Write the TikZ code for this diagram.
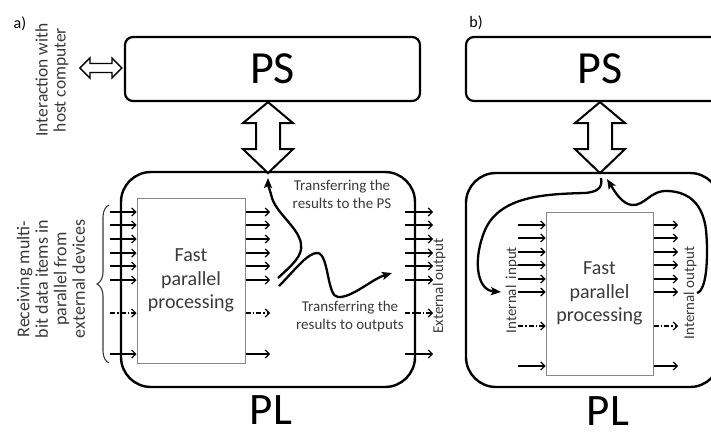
\documentclass[tikz,border=0pt]{standalone}
\usepackage{fontspec}
\setmainfont{Carlito}
\usetikzlibrary{arrows.meta,calc,decorations.pathreplacing}
\definecolor{txtgray}{RGB}{58,58,58}
\definecolor{boxgray}{RGB}{135,135,135}

\begin{document}
\begin{tikzpicture}[x=1pt,y=-1pt,
  frame/.style={draw, line width=2.2pt, rounded corners=8pt, inner sep=0pt,
    font=\fontsize{46}{50}\selectfont},
  plframe/.style={draw, line width=2.4pt, rounded corners=30pt, inner sep=0pt},
  corebox/.style={draw=boxgray, line width=1pt, inner sep=0pt, align=center,
    text=txtgray, font=\fontsize{20}{23.5}\selectfont},
  bigtxt/.style={inner sep=0pt, font=\fontsize{45}{48}\selectfont},
  sig/.style={line width=1.2pt, -{Straight Barb[length=4pt,width=8pt]}},
  sigdd/.style={sig, dash pattern=on 5pt off 2pt on 1.5pt off 2pt},
  flow/.style={line width=2.3pt, -{Stealth[length=10pt,width=8pt,inset=2pt]}},
  note/.style={text=txtgray, align=center, inner sep=0pt},
  tag/.style={inner sep=0pt, font=\fontsize{16}{18}\selectfont},
  bus/.style={draw, line width=2pt, fill=white, line join=miter},
  pics/busarrow/.style={code={
    \draw[bus] (0,0) -- (25,21) -- (12,21) -- (12,47) -- (25,47) -- (0,71)
      -- (-25,47) -- (-12,47) -- (-12,21) -- (-25,21) -- cycle;}},
]
\useasboundingbox (0,0) rectangle (711,433);
\clip (0,0) rectangle (711,433);

% ---------------- panel a ----------------
\node[tag] (tagA) at (20,24) {a)};
\node[frame, minimum width=295pt, minimum height=64pt] (psA) at (272.5,69) {PS};
\node[plframe, minimum width=294pt, minimum height=215pt] (plA) at (268,279.5) {};
\node[bigtxt] (plAtxt) at (271,410) {PL};
\node[corebox, minimum width=108pt, minimum height=165pt] (coreA) at (191,280.5)
  {Fast\\parallel\\processing};

% bus between PS and PL
\coordinate (busA) at (268,0);
\pic at (busA |- psA.south) {busarrow};

% link to the host computer
\draw[line width=1.3pt, line join=miter, fill=white]
  ($(psA.west)+(-2,-1)$) -- ++(-10,-10) -- ++(0,5.5) -- ++(-22,0) -- ++(0,-5.5)
  -- ++(-10,10) -- ++(10,10) -- ++(0,-5.5) -- ++(22,0) -- ++(0,5.5) -- cycle;
\node[note, rotate=90, font=\fontsize{17.5}{18}\selectfont] (hostlbl) at (52,80)
  {Interaction with\\host computer};

% parallel inputs, outputs and external outputs
\foreach \y [count=\i] in {212,225,239,253,266,280,354} {
  \coordinate (ia\i) at (110,\y);
  \coordinate (oa\i) at (270,\y);
  \coordinate (ea\i) at (405,\y);
  \coordinate (fa\i) at (433,\y);
  \draw[sig] (ia\i) -- (ia\i -| coreA.west);
  \draw[sig] (oa\i -| coreA.east) -- (oa\i);
  \draw[sig] (ea\i) -- (fa\i);
}
\coordinate (iad) at (110,313);
\coordinate (oad) at (270,313);
\coordinate (ead) at (405,313);
\coordinate (fad) at (433,313);
\draw[sigdd] (iad) -- (iad -| coreA.west);
\draw[sigdd] (oad -| coreA.east) -- (oad);
\draw[sigdd] (ead) -- (fad);

\draw[decorate, decoration={brace, amplitude=12pt, aspect=0.5}, line width=1.1pt, txtgray]
  (109,363) -- (109,205);
\node[note, rotate=90, font=\fontsize{18}{18.5}\selectfont] (rxlbl) at (51,279)
  {Receiving multi-\\bit data items in\\parallel from\\external devices};
\node[note, rotate=90, font=\fontsize{15}{18}\selectfont] (extlbl) at (439,286)
  {External output};

% result transfers
\coordinate (rA1) at (278,278);
\coordinate (rA1e) at (268,178);
\draw[flow] (rA1) .. controls (292,265) and (303,256) .. (301,244)
  .. controls (299,228) and (277,214) .. (272,198)
  .. controls (270,190) and (268,185) .. (rA1e);
\coordinate (rA2) at (279,286);
\coordinate (rA2e) at (392,273);
\draw[flow] (rA2) .. controls (295,270) and (308,252) .. (318,253)
  .. controls (329,255) and (327,297) .. (338,297)
  .. controls (352,298) and (372,279) .. (rA2e);
\node[note, font=\fontsize{15}{18}\selectfont] (topsA) at (342,194)
  {Transferring the\\results to the PS};
\node[note, font=\fontsize{15}{18}\selectfont] (tooutA) at (350,316)
  {Transferring the\\results to outputs};

% ---------------- panel b ----------------
\node[tag] (tagB) at (476,23) {b)};
\node[frame, minimum width=268pt, minimum height=64pt] (psB) at (600,69) {PS};
\node[plframe, minimum width=254pt, minimum height=214pt] (plB) at (593,280) {};
\node[bigtxt] (plBtxt) at (608,411) {PL};
\node[corebox, minimum width=107pt, minimum height=163pt] (coreB) at (599.5,293.5)
  {Fast\\parallel\\processing};

\coordinate (busB) at (600,0);
\pic at (busB |- psB.south) {busarrow};

\foreach \y [count=\i] in {225,238,252,265,279,292,366} {
  \coordinate (ib\i) at (518,\y);
  \coordinate (ob\i) at (678,\y);
  \draw[sig] (ib\i) -- (ib\i -| coreB.west);
  \draw[sig] (ob\i -| coreB.east) -- (ob\i);
}
\coordinate (ibd) at (518,326);
\coordinate (obd) at (678,326);
\draw[sigdd] (ibd) -- (ibd -| coreB.west);
\draw[sigdd] (obd -| coreB.east) -- (obd);

\node[note, rotate=90, font=\fontsize{15}{18}\selectfont] (inlbl) at (512,290)
  {Internal\hspace{3pt} input};
\node[note, rotate=90, font=\fontsize{15}{18}\selectfont] (outlbl) at (690,293)
  {Internal output};

% internal feedback loops through the PS
\coordinate (rB1) at (601,178);
\coordinate (rB1e) at (501,292);
\draw[flow] (rB1) .. controls (603,188) and (597,192) .. (585,193)
  .. controls (545,194) and (500,196) .. (485,230)
  .. controls (473,258) and (476,290) .. (rB1e);
\coordinate (rB2) at (697,293);
\coordinate (rB2e) at (607,179);
\draw[flow] (rB2) .. controls (708,290) and (708,250) .. (706,230)
  .. controls (703,205) and (690,192) .. (668,191)
  .. controls (650,190) and (645,206) .. (632,205)
  .. controls (622,204) and (615,192) .. (rB2e);
\end{tikzpicture}
\end{document}
